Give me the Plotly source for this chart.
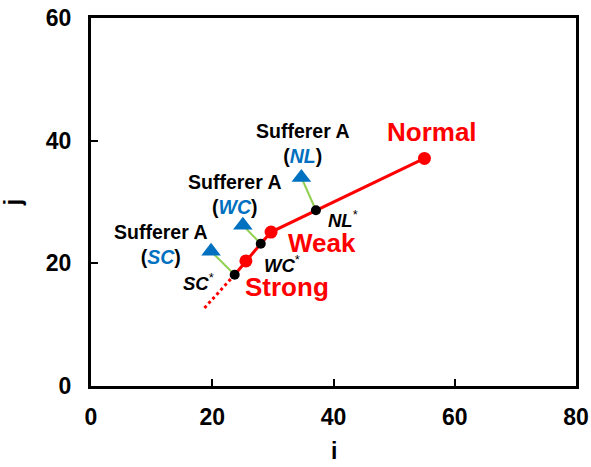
import plotly.graph_objects as go

# ---- data ----
state_names = ["Normal", "Weak", "Strong"]
state_i = [55.0, 29.7, 25.55]
state_j = [37.1, 25.1, 20.4]

proj_names = ["NL", "WC", "SC"]
proj_i = [37.1, 28.0, 23.7]
proj_j = [28.65, 23.2, 18.15]

sufferer_i = [34.7, 25.05, 19.8]
sufferer_j = [34.0, 26.2, 21.95]

extrap_i = [23.7, 18.65]
extrap_j = [18.15, 12.65]

x_ticks = [0, 20, 40, 60, 80]
y_ticks = [0, 20, 40, 60]

RED = "#FF0000"
BLUE = "#0070C0"
GREEN = "#92D050"
FONT = "Liberation Sans, Arial, sans-serif"

fig = go.Figure()

# green connectors sufferer -> projection
for k in range(len(proj_names)):
    fig.add_trace(go.Scatter(x=[sufferer_i[k], proj_i[k]], y=[sufferer_j[k], proj_j[k]],
                             mode="lines", line=dict(color=GREEN, width=2),
                             showlegend=False, hoverinfo="skip"))

# red dotted extrapolation
fig.add_trace(go.Scatter(x=extrap_i, y=extrap_j, mode="lines",
                         line=dict(color=RED, width=3, dash="dot"),
                         showlegend=False, hoverinfo="skip"))

# red solid path through states and projections
pts = sorted(zip(state_i + proj_i, state_j + proj_j), key=lambda p: -p[0])
fig.add_trace(go.Scatter(x=[p[0] for p in pts], y=[p[1] for p in pts], mode="lines",
                         line=dict(color=RED, width=3), showlegend=False, hoverinfo="skip"))

# state markers
fig.add_trace(go.Scatter(x=state_i, y=state_j, mode="markers",
                         marker=dict(color=RED, size=13, line=dict(width=0)),
                         showlegend=False))
# projection markers
fig.add_trace(go.Scatter(x=proj_i, y=proj_j, mode="markers",
                         marker=dict(color="black", size=10, line=dict(width=0)),
                         showlegend=False))
# sufferer triangles
fig.add_trace(go.Scatter(x=sufferer_i, y=sufferer_j, mode="markers",
                         marker=dict(color=BLUE, size=17, symbol="triangle-up", line=dict(width=0)),
                         showlegend=False))

# ---- labels ----
state_offsets = [(8, 26), (51, -11), (41, -26)]
for k, name in enumerate(state_names):
    fig.add_annotation(x=state_i[k], y=state_j[k], text="<b>%s</b>" % name, showarrow=False,
                       xshift=state_offsets[k][0], yshift=state_offsets[k][1],
                       font=dict(family=FONT, size=26, color=RED))

suff_offsets = [(2, 34), (-8, 31), (-50, 7)]
for k, name in enumerate(proj_names):
    txt = "<b>Sufferer A</b><br><b>(<span style='color:%s'><i>%s</i></span>)</b>" % (BLUE, name)
    fig.add_annotation(x=sufferer_i[k], y=sufferer_j[k], text=txt, showarrow=False,
                       xshift=suff_offsets[k][0], yshift=suff_offsets[k][1],
                       font=dict(family=FONT, size=19.5, color="black"))

proj_offsets = [("left", 10, -9), ("left", 1, -20), ("right", -19, -7)]
for k, name in enumerate(proj_names):
    anc, dx, dy = proj_offsets[k]
    fig.add_annotation(x=proj_i[k], y=proj_j[k], text="<b><i>%s</i></b><sup>*</sup>" % name,
                       showarrow=False, xanchor=anc, xshift=dx, yshift=dy,
                       font=dict(family=FONT, size=18.5, color="black"))

# x-axis title (sits low, at the page edge as in the reference)
fig.add_annotation(xref="x domain", yref="y domain", x=0.5, y=-0.218, yanchor="bottom",
                   text="<b>i</b>", showarrow=False,
                   font=dict(family=FONT, size=23, color="black"))

axis_common = dict(showline=True, linecolor="black", linewidth=3, mirror=True,
                   ticks="inside", ticklen=7, tickwidth=2, tickcolor="black",
                   showgrid=False, zeroline=False, automargin=False,
                   tickfont=dict(family=FONT, size=23, color="black"))

fig.update_xaxes(range=[0, 80], tickvals=x_ticks, ticktext=["<b>%d</b>" % v for v in x_ticks],
                 ticklabelstandoff=8, **axis_common)
fig.update_yaxes(range=[0, 60], tickvals=y_ticks, ticktext=["<b>%d</b>" % v for v in y_ticks],
                 ticklabelstandoff=12,
                 title=dict(text="<b>j</b>", font=dict(family=FONT, size=23, color="black"), standoff=24),
                 **axis_common)

fig.update_layout(width=591, height=467, margin=dict(l=91, r=15, t=18, b=81),
                  plot_bgcolor="white", paper_bgcolor="white",
                  font=dict(family=FONT))

fig.write_html("out.html")
